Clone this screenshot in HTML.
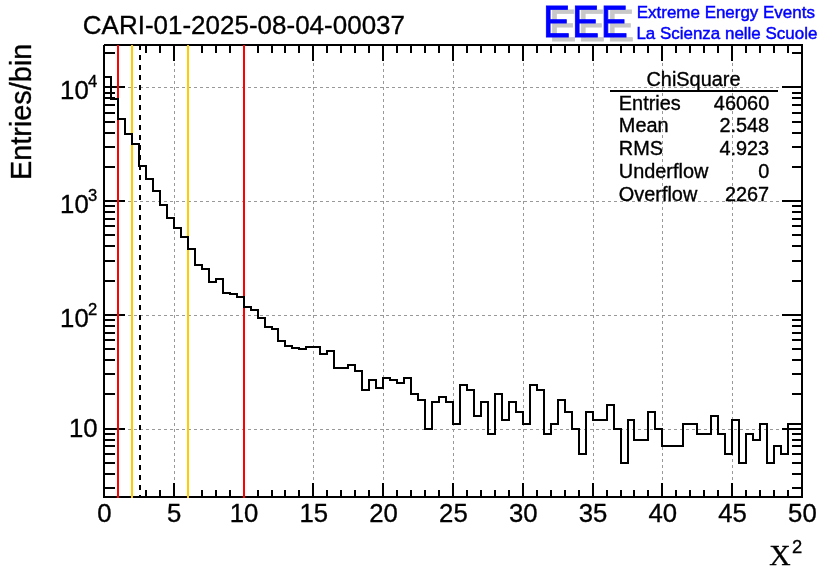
<!DOCTYPE html>
<html lang="en"><head><meta charset="utf-8"><title>CARI-01-2025-08-04-00037 ChiSquare</title>
<style>
html,body{margin:0;padding:0;background:#fff;}
body{width:836px;height:572px;overflow:hidden;}
svg{display:block;will-change:transform;}
text{font-family:"Liberation Sans",sans-serif;fill:#000;stroke:#000;stroke-width:0.35px;}
.ser{font-family:"Liberation Serif",serif;}
.ax{font-size:25.74px;}
.st{font-size:19.9px;}
.bl{fill:#0000ff;stroke:#0000ff;stroke-width:0.45px;font-size:16.97px;}
</style></head><body>
<svg width="836" height="572" viewBox="0 0 836 572">
<rect x="0" y="0" width="836" height="572" fill="#ffffff"/>
<g stroke="#999999" stroke-width="1" stroke-dasharray="3 3" shape-rendering="crispEdges" fill="none">
<line x1="174.5" y1="45" x2="174.5" y2="496"/>
<line x1="244.5" y1="45" x2="244.5" y2="496"/>
<line x1="313.5" y1="45" x2="313.5" y2="496"/>
<line x1="383.5" y1="45" x2="383.5" y2="496"/>
<line x1="453.5" y1="45" x2="453.5" y2="496"/>
<line x1="523.5" y1="45" x2="523.5" y2="496"/>
<line x1="593.5" y1="45" x2="593.5" y2="496"/>
<line x1="662.5" y1="45" x2="662.5" y2="496"/>
<line x1="732.5" y1="45" x2="732.5" y2="496"/>
<line x1="104" y1="429.5" x2="801" y2="429.5"/>
<line x1="104" y1="315.5" x2="801" y2="315.5"/>
<line x1="104" y1="201.5" x2="801" y2="201.5"/>
<line x1="104" y1="87.5" x2="801" y2="87.5"/>
</g>
<g stroke="#000" stroke-width="2" shape-rendering="crispEdges" fill="none">
<rect x="104" y="45" width="698" height="452"/>
<line x1="118" y1="497" x2="118" y2="490"/>
<line x1="118" y1="45" x2="118" y2="53"/>
<line x1="132" y1="497" x2="132" y2="490"/>
<line x1="132" y1="45" x2="132" y2="53"/>
<line x1="146" y1="497" x2="146" y2="490"/>
<line x1="146" y1="45" x2="146" y2="53"/>
<line x1="160" y1="497" x2="160" y2="490"/>
<line x1="160" y1="45" x2="160" y2="53"/>
<line x1="174" y1="497" x2="174" y2="483"/>
<line x1="174" y1="45" x2="174" y2="61"/>
<line x1="188" y1="497" x2="188" y2="490"/>
<line x1="188" y1="45" x2="188" y2="53"/>
<line x1="202" y1="497" x2="202" y2="490"/>
<line x1="202" y1="45" x2="202" y2="53"/>
<line x1="216" y1="497" x2="216" y2="490"/>
<line x1="216" y1="45" x2="216" y2="53"/>
<line x1="230" y1="497" x2="230" y2="490"/>
<line x1="230" y1="45" x2="230" y2="53"/>
<line x1="244" y1="497" x2="244" y2="483"/>
<line x1="244" y1="45" x2="244" y2="61"/>
<line x1="258" y1="497" x2="258" y2="490"/>
<line x1="258" y1="45" x2="258" y2="53"/>
<line x1="272" y1="497" x2="272" y2="490"/>
<line x1="272" y1="45" x2="272" y2="53"/>
<line x1="285" y1="497" x2="285" y2="490"/>
<line x1="285" y1="45" x2="285" y2="53"/>
<line x1="299" y1="497" x2="299" y2="490"/>
<line x1="299" y1="45" x2="299" y2="53"/>
<line x1="313" y1="497" x2="313" y2="483"/>
<line x1="313" y1="45" x2="313" y2="61"/>
<line x1="327" y1="497" x2="327" y2="490"/>
<line x1="327" y1="45" x2="327" y2="53"/>
<line x1="341" y1="497" x2="341" y2="490"/>
<line x1="341" y1="45" x2="341" y2="53"/>
<line x1="355" y1="497" x2="355" y2="490"/>
<line x1="355" y1="45" x2="355" y2="53"/>
<line x1="369" y1="497" x2="369" y2="490"/>
<line x1="369" y1="45" x2="369" y2="53"/>
<line x1="383" y1="497" x2="383" y2="483"/>
<line x1="383" y1="45" x2="383" y2="61"/>
<line x1="397" y1="497" x2="397" y2="490"/>
<line x1="397" y1="45" x2="397" y2="53"/>
<line x1="411" y1="497" x2="411" y2="490"/>
<line x1="411" y1="45" x2="411" y2="53"/>
<line x1="425" y1="497" x2="425" y2="490"/>
<line x1="425" y1="45" x2="425" y2="53"/>
<line x1="439" y1="497" x2="439" y2="490"/>
<line x1="439" y1="45" x2="439" y2="53"/>
<line x1="453" y1="497" x2="453" y2="483"/>
<line x1="453" y1="45" x2="453" y2="61"/>
<line x1="467" y1="497" x2="467" y2="490"/>
<line x1="467" y1="45" x2="467" y2="53"/>
<line x1="481" y1="497" x2="481" y2="490"/>
<line x1="481" y1="45" x2="481" y2="53"/>
<line x1="495" y1="497" x2="495" y2="490"/>
<line x1="495" y1="45" x2="495" y2="53"/>
<line x1="509" y1="497" x2="509" y2="490"/>
<line x1="509" y1="45" x2="509" y2="53"/>
<line x1="523" y1="497" x2="523" y2="483"/>
<line x1="523" y1="45" x2="523" y2="61"/>
<line x1="537" y1="497" x2="537" y2="490"/>
<line x1="537" y1="45" x2="537" y2="53"/>
<line x1="551" y1="497" x2="551" y2="490"/>
<line x1="551" y1="45" x2="551" y2="53"/>
<line x1="565" y1="497" x2="565" y2="490"/>
<line x1="565" y1="45" x2="565" y2="53"/>
<line x1="579" y1="497" x2="579" y2="490"/>
<line x1="579" y1="45" x2="579" y2="53"/>
<line x1="593" y1="497" x2="593" y2="483"/>
<line x1="593" y1="45" x2="593" y2="61"/>
<line x1="607" y1="497" x2="607" y2="490"/>
<line x1="607" y1="45" x2="607" y2="53"/>
<line x1="621" y1="497" x2="621" y2="490"/>
<line x1="621" y1="45" x2="621" y2="53"/>
<line x1="634" y1="497" x2="634" y2="490"/>
<line x1="634" y1="45" x2="634" y2="53"/>
<line x1="648" y1="497" x2="648" y2="490"/>
<line x1="648" y1="45" x2="648" y2="53"/>
<line x1="662" y1="497" x2="662" y2="483"/>
<line x1="662" y1="45" x2="662" y2="61"/>
<line x1="676" y1="497" x2="676" y2="490"/>
<line x1="676" y1="45" x2="676" y2="53"/>
<line x1="690" y1="497" x2="690" y2="490"/>
<line x1="690" y1="45" x2="690" y2="53"/>
<line x1="704" y1="497" x2="704" y2="490"/>
<line x1="704" y1="45" x2="704" y2="53"/>
<line x1="718" y1="497" x2="718" y2="490"/>
<line x1="718" y1="45" x2="718" y2="53"/>
<line x1="732" y1="497" x2="732" y2="483"/>
<line x1="732" y1="45" x2="732" y2="61"/>
<line x1="746" y1="497" x2="746" y2="490"/>
<line x1="746" y1="45" x2="746" y2="53"/>
<line x1="760" y1="497" x2="760" y2="490"/>
<line x1="760" y1="45" x2="760" y2="53"/>
<line x1="774" y1="497" x2="774" y2="490"/>
<line x1="774" y1="45" x2="774" y2="53"/>
<line x1="788" y1="497" x2="788" y2="490"/>
<line x1="788" y1="45" x2="788" y2="53"/>
<line x1="104" y1="488" x2="115" y2="488"/>
<line x1="802" y1="488" x2="792" y2="488"/>
<line x1="104" y1="474" x2="115" y2="474"/>
<line x1="802" y1="474" x2="792" y2="474"/>
<line x1="104" y1="463" x2="115" y2="463"/>
<line x1="802" y1="463" x2="792" y2="463"/>
<line x1="104" y1="454" x2="115" y2="454"/>
<line x1="802" y1="454" x2="792" y2="454"/>
<line x1="104" y1="446" x2="115" y2="446"/>
<line x1="802" y1="446" x2="792" y2="446"/>
<line x1="104" y1="440" x2="115" y2="440"/>
<line x1="802" y1="440" x2="792" y2="440"/>
<line x1="104" y1="434" x2="115" y2="434"/>
<line x1="802" y1="434" x2="792" y2="434"/>
<line x1="104" y1="429" x2="125" y2="429"/>
<line x1="802" y1="429" x2="782" y2="429"/>
<line x1="104" y1="394" x2="115" y2="394"/>
<line x1="802" y1="394" x2="792" y2="394"/>
<line x1="104" y1="374" x2="115" y2="374"/>
<line x1="802" y1="374" x2="792" y2="374"/>
<line x1="104" y1="360" x2="115" y2="360"/>
<line x1="802" y1="360" x2="792" y2="360"/>
<line x1="104" y1="349" x2="115" y2="349"/>
<line x1="802" y1="349" x2="792" y2="349"/>
<line x1="104" y1="340" x2="115" y2="340"/>
<line x1="802" y1="340" x2="792" y2="340"/>
<line x1="104" y1="333" x2="115" y2="333"/>
<line x1="802" y1="333" x2="792" y2="333"/>
<line x1="104" y1="326" x2="115" y2="326"/>
<line x1="802" y1="326" x2="792" y2="326"/>
<line x1="104" y1="320" x2="115" y2="320"/>
<line x1="802" y1="320" x2="792" y2="320"/>
<line x1="104" y1="315" x2="125" y2="315"/>
<line x1="802" y1="315" x2="782" y2="315"/>
<line x1="104" y1="281" x2="115" y2="281"/>
<line x1="802" y1="281" x2="792" y2="281"/>
<line x1="104" y1="261" x2="115" y2="261"/>
<line x1="802" y1="261" x2="792" y2="261"/>
<line x1="104" y1="246" x2="115" y2="246"/>
<line x1="802" y1="246" x2="792" y2="246"/>
<line x1="104" y1="235" x2="115" y2="235"/>
<line x1="802" y1="235" x2="792" y2="235"/>
<line x1="104" y1="226" x2="115" y2="226"/>
<line x1="802" y1="226" x2="792" y2="226"/>
<line x1="104" y1="219" x2="115" y2="219"/>
<line x1="802" y1="219" x2="792" y2="219"/>
<line x1="104" y1="212" x2="115" y2="212"/>
<line x1="802" y1="212" x2="792" y2="212"/>
<line x1="104" y1="206" x2="115" y2="206"/>
<line x1="802" y1="206" x2="792" y2="206"/>
<line x1="104" y1="201" x2="125" y2="201"/>
<line x1="802" y1="201" x2="782" y2="201"/>
<line x1="104" y1="167" x2="115" y2="167"/>
<line x1="802" y1="167" x2="792" y2="167"/>
<line x1="104" y1="147" x2="115" y2="147"/>
<line x1="802" y1="147" x2="792" y2="147"/>
<line x1="104" y1="133" x2="115" y2="133"/>
<line x1="802" y1="133" x2="792" y2="133"/>
<line x1="104" y1="122" x2="115" y2="122"/>
<line x1="802" y1="122" x2="792" y2="122"/>
<line x1="104" y1="113" x2="115" y2="113"/>
<line x1="802" y1="113" x2="792" y2="113"/>
<line x1="104" y1="105" x2="115" y2="105"/>
<line x1="802" y1="105" x2="792" y2="105"/>
<line x1="104" y1="98" x2="115" y2="98"/>
<line x1="802" y1="98" x2="792" y2="98"/>
<line x1="104" y1="93" x2="115" y2="93"/>
<line x1="802" y1="93" x2="792" y2="93"/>
<line x1="104" y1="87" x2="125" y2="87"/>
<line x1="802" y1="87" x2="782" y2="87"/>
<line x1="104" y1="53" x2="115" y2="53"/>
<line x1="802" y1="53" x2="792" y2="53"/>
</g>
<rect x="103" y="44" width="1" height="1" fill="#fff" shape-rendering="crispEdges"/>
<g stroke-width="2" shape-rendering="crispEdges" fill="none">
<line x1="118" y1="45" x2="118" y2="498" stroke="#ff0000"/>
<line x1="132" y1="45" x2="132" y2="498" stroke="#ffcc00"/>
<line x1="188" y1="45" x2="188" y2="498" stroke="#ffcc00"/>
<line x1="244" y1="45" x2="244" y2="498" stroke="#ff0000"/>
<line x1="140" y1="45" x2="140" y2="497" stroke="#000" stroke-dasharray="5 5"/>
</g>
<path d="M104,77 L111,77 L111,99 L118,99 L118,119 L125,119 L125,134 L132,134 L132,144 L139,144 L139,166 L146,166 L146,179 L153,179 L153,191 L160,191 L160,205 L167,205 L167,218 L174,218 L174,228 L181,228 L181,237 L188,237 L188,249 L195,249 L195,265 L202,265 L202,269 L209,269 L209,282 L216,282 L216,279 L223,279 L223,293 L230,293 L230,294 L237,294 L237,297 L244,297 L244,307 L251,307 L251,310 L258,310 L258,318 L265,318 L265,327 L272,327 L272,329 L278,329 L278,341 L285,341 L285,346 L292,346 L292,348 L299,348 L299,349 L306,349 L306,347 L313,347 L313,347 L320,347 L320,354 L327,354 L327,351 L334,351 L334,368 L341,368 L341,368 L348,368 L348,365 L355,365 L355,371 L362,371 L362,390 L369,390 L369,380 L376,380 L376,388 L383,388 L383,378 L390,378 L390,380 L397,380 L397,383 L404,383 L404,378 L411,378 L411,394 L418,394 L418,400 L425,400 L425,429 L432,429 L432,402 L439,402 L439,397 L446,397 L446,402 L453,402 L453,424 L460,424 L460,385 L467,385 L467,390 L474,390 L474,416 L481,416 L481,402 L488,402 L488,434 L495,434 L495,394 L502,394 L502,420 L509,420 L509,402 L516,402 L516,412 L523,412 L523,424 L530,424 L530,385 L537,385 L537,390 L544,390 L544,434 L551,434 L551,424 L558,424 L558,400 L565,400 L565,412 L572,412 L572,429 L579,429 L579,454 L586,454 L586,412 L593,412 L593,420 L600,420 L600,420 L607,420 L607,405 L614,405 L614,429 L621,429 L621,463 L628,463 L628,420 L634,420 L634,440 L641,440 L641,440 L648,440 L648,412 L655,412 L655,429 L662,429 L662,446 L669,446 L669,446 L676,446 L676,446 L683,446 L683,424 L690,424 L690,424 L697,424 L697,434 L704,434 L704,434 L711,434 L711,416 L718,416 L718,434 L725,434 L725,454 L732,454 L732,420 L739,420 L739,463 L746,463 L746,434 L753,434 L753,440 L760,440 L760,424 L767,424 L767,463 L774,463 L774,446 L781,446 L781,454 L788,454 L788,424 L795,424 L795,424 L802,424" stroke="#000" stroke-width="2" fill="none" stroke-linejoin="miter" stroke-linecap="square" shape-rendering="crispEdges"/>
<text transform="translate(82.8,33.5) scale(1,1.015)" style="font-size:26.0px">CARI-01-2025-08-04-00037</text>
<text transform="translate(31.4,43.8) rotate(-90) scale(1,1.02)" text-anchor="end" style="font-size:28.85px">Entries/bin</text>
<text transform="translate(104.4,522.2) scale(1,1.015)" text-anchor="middle" style="font-size:25.74px">0</text>
<text transform="translate(174.2,522.2) scale(1,1.015)" text-anchor="middle" style="font-size:25.74px">5</text>
<text transform="translate(244.0,522.2) scale(1,1.015)" text-anchor="middle" style="font-size:25.74px">10</text>
<text transform="translate(313.8,522.2) scale(1,1.015)" text-anchor="middle" style="font-size:25.74px">15</text>
<text transform="translate(383.6,522.2) scale(1,1.015)" text-anchor="middle" style="font-size:25.74px">20</text>
<text transform="translate(453.4,522.2) scale(1,1.015)" text-anchor="middle" style="font-size:25.74px">25</text>
<text transform="translate(523.2,522.2) scale(1,1.015)" text-anchor="middle" style="font-size:25.74px">30</text>
<text transform="translate(593.0,522.2) scale(1,1.015)" text-anchor="middle" style="font-size:25.74px">35</text>
<text transform="translate(662.8,522.2) scale(1,1.015)" text-anchor="middle" style="font-size:25.74px">40</text>
<text transform="translate(732.6,522.2) scale(1,1.015)" text-anchor="middle" style="font-size:25.74px">45</text>
<text transform="translate(802.4,522.2) scale(1,1.015)" text-anchor="middle" style="font-size:25.74px">50</text>
<text transform="translate(88.7,99) scale(1,1.015)" text-anchor="end" style="font-size:25.74px">10</text>
<text transform="translate(88.0,87.3) scale(1,1.02)" style="font-size:16.6px">4</text>
<text transform="translate(88.7,213) scale(1,1.015)" text-anchor="end" style="font-size:25.74px">10</text>
<text transform="translate(88.0,201.3) scale(1,1.02)" style="font-size:16.6px">3</text>
<text transform="translate(88.7,327) scale(1,1.015)" text-anchor="end" style="font-size:25.74px">10</text>
<text transform="translate(88.0,315.3) scale(1,1.02)" style="font-size:16.6px">2</text>
<text x="97.5" y="436.8" text-anchor="end" style="font-size:25.74px">10</text>
<text class="ser" transform="translate(769.2,564.9) scale(0.985,1.012)" style="font-size:30px">X</text>
<text transform="translate(792.0,552.5) scale(1,1.02)" style="font-size:18.4px">2</text>
<text transform="translate(549.2,41.3) scale(0.902,1)" style="font-size:45px;fill:#c8c8c8;stroke:#c8c8c8;stroke-width:0.9px">E</text>
<text transform="translate(578.1,41.3) scale(0.902,1)" style="font-size:45px;fill:#c8c8c8;stroke:#c8c8c8;stroke-width:0.9px">E</text>
<text transform="translate(607.0,41.3) scale(0.902,1)" style="font-size:45px;fill:#c8c8c8;stroke:#c8c8c8;stroke-width:0.9px">E</text>
<text transform="translate(543.0,36.5) scale(0.902,1)" style="font-size:45px;fill:#0000ff;stroke:#0000ff;stroke-width:0.9px">E</text>
<text transform="translate(571.9,36.5) scale(0.902,1)" style="font-size:45px;fill:#0000ff;stroke:#0000ff;stroke-width:0.9px">E</text>
<text transform="translate(600.8,36.5) scale(0.902,1)" style="font-size:45px;fill:#0000ff;stroke:#0000ff;stroke-width:0.9px">E</text>
<text class="bl" x="636.8" y="17.5">Extreme Energy Events</text>
<text class="bl" x="636.4" y="38.8">La Scienza nelle Scuole</text>
<text class="st" transform="translate(693.5,86.1) scale(1,1.035)" text-anchor="middle">ChiSquare</text>
<line x1="610" y1="91" x2="778" y2="91" stroke="#000" stroke-width="2" shape-rendering="crispEdges"/>
<text class="st" transform="translate(618.8,109.6) scale(1,1.035)">Entries</text>
<text class="st" transform="translate(769.2,109.6) scale(1,1.035)" text-anchor="end">46060</text>
<text class="st" transform="translate(618.8,132.4) scale(1,1.035)">Mean</text>
<text class="st" transform="translate(769.2,132.4) scale(1,1.035)" text-anchor="end">2.548</text>
<text class="st" transform="translate(618.8,154.8) scale(1,1.035)">RMS</text>
<text class="st" transform="translate(769.2,154.8) scale(1,1.035)" text-anchor="end">4.923</text>
<text class="st" transform="translate(618.8,177.5) scale(1,1.035)">Underflow</text>
<text class="st" transform="translate(769.2,177.5) scale(1,1.035)" text-anchor="end">0</text>
<text class="st" transform="translate(618.8,200.5) scale(1,1.035)">Overflow</text>
<text class="st" transform="translate(769.2,200.5) scale(1,1.035)" text-anchor="end">2267</text>
</svg>
</body></html>
